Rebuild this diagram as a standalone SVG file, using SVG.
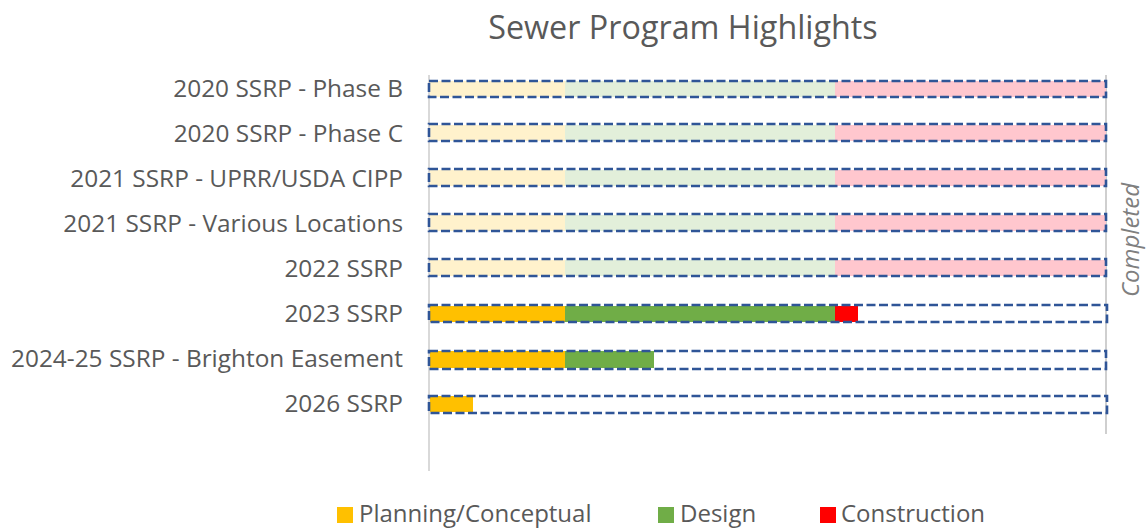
<svg xmlns="http://www.w3.org/2000/svg" width="1146" height="529" viewBox="0 0 1146 529">
<style>
text{font-family:"Open Sans","Liberation Sans",sans-serif;fill:#595959}
.lbl{font-size:24.4px;text-anchor:end}
.leg{font-size:24px}
.box{fill:none;stroke:#2F5597;stroke-width:2.6;stroke-dasharray:9 3.5}
.p{fill:#FFC000}.d{fill:#70AD47}.c{fill:#FF0000}
.pf{fill:#FFF2CC}.df{fill:#E2EFDA}.cf{fill:#FFC7CE}
</style>
<rect width="1146" height="529" fill="#fff"/>
<text x="683" y="39" font-size="32.3" text-anchor="middle">Sewer Program Highlights</text>
<g id="axes">
<line x1="429" y1="75" x2="429" y2="471" stroke="#D9D9D9" stroke-width="2"/>
<line x1="1106" y1="75" x2="1106" y2="434" stroke="#BFBFBF" stroke-width="1.5"/>
</g>
<g id="row1"><text class="lbl" x="403" y="97">2020 SSRP - Phase B</text>
<rect class="pf" x="430" y="81" width="135" height="16"/><rect class="df" x="565" y="81" width="270" height="16"/><rect class="cf" x="835" y="81" width="271" height="16"/>
<rect class="box" x="429" y="81" width="677" height="16"/></g>
<g id="row2"><text class="lbl" x="403" y="142">2020 SSRP - Phase C</text>
<rect class="pf" x="430" y="125" width="135" height="16"/><rect class="df" x="565" y="125" width="270" height="16"/><rect class="cf" x="835" y="125" width="271" height="16"/>
<rect class="box" x="429" y="124" width="677" height="17"/></g>
<g id="row3"><text class="lbl" x="403" y="187">2021 SSRP - UPRR/USDA CIPP</text>
<rect class="pf" x="430" y="170" width="135" height="16"/><rect class="df" x="565" y="170" width="270" height="16"/><rect class="cf" x="835" y="170" width="271" height="16"/>
<rect class="box" x="429" y="169" width="677" height="17"/></g>
<g id="row4"><text class="lbl" x="403" y="232">2021 SSRP - Various Locations</text>
<rect class="pf" x="430" y="215" width="135" height="16"/><rect class="df" x="565" y="215" width="270" height="16"/><rect class="cf" x="835" y="215" width="271" height="16"/>
<rect class="box" x="429" y="214" width="677" height="17"/></g>
<g id="row5"><text class="lbl" x="403" y="277">2022 SSRP</text>
<rect class="pf" x="430" y="260" width="135" height="16"/><rect class="df" x="565" y="260" width="270" height="16"/><rect class="cf" x="835" y="260" width="271" height="16"/>
<rect class="box" x="429" y="259" width="677" height="17"/></g>
<g id="row6"><text class="lbl" x="403" y="322">2023 SSRP</text>
<rect class="p" x="430" y="306" width="135" height="16"/><rect class="d" x="565" y="306" width="270" height="16"/><rect class="c" x="835" y="306" width="23" height="16"/>
<rect class="box" x="429" y="305" width="678" height="17"/></g>
<g id="row7"><text class="lbl" x="403" y="367">2024-25 SSRP - Brighton Easement</text>
<rect class="p" x="430" y="351" width="135" height="17"/><rect class="d" x="565" y="351" width="89" height="17"/>
<rect class="box" x="429" y="351" width="677" height="18"/></g>
<g id="row8"><text class="lbl" x="403" y="412">2026 SSRP</text>
<rect class="p" x="430" y="396" width="43" height="16"/>
<rect class="box" x="429" y="396" width="678" height="17"/></g>
<text x="1139" y="240" font-size="24" font-style="italic" style="fill:#7F7F7F" text-anchor="middle" transform="rotate(-90 1139 240)">Completed</text>
<g id="legend">
<rect class="p" x="337" y="507" width="16" height="16"/><text class="leg" x="359" y="522">Planning/Conceptual</text>
<rect class="d" x="658" y="507" width="16" height="16"/><text class="leg" x="680" y="522">Design</text>
<rect class="c" x="820" y="507" width="16" height="16"/><text class="leg" x="841" y="522">Construction</text>
</g>
</svg>
